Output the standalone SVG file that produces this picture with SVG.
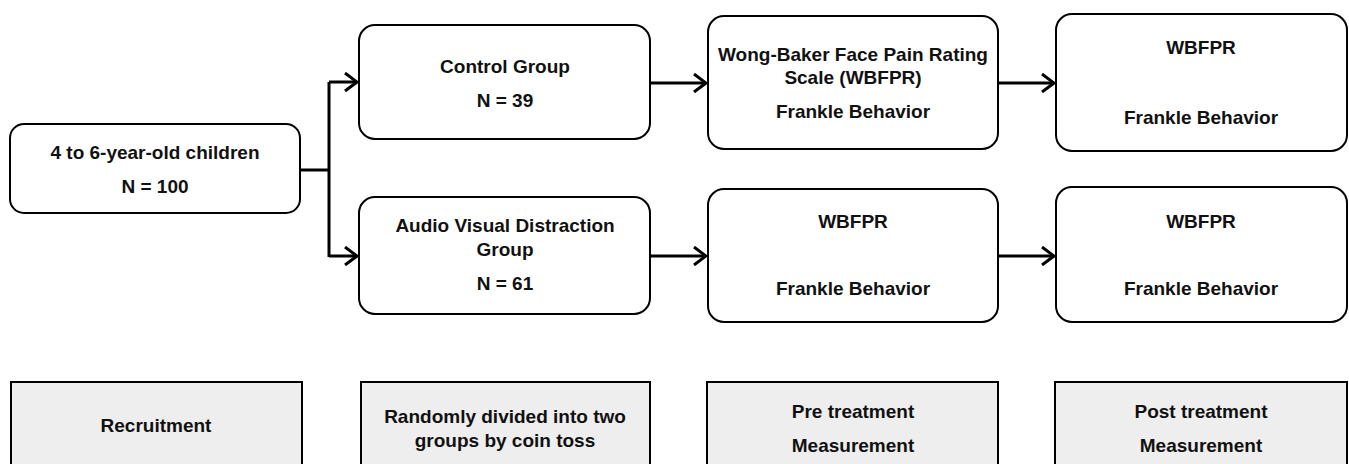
<svg xmlns="http://www.w3.org/2000/svg" width="1349" height="464" viewBox="0 0 1349 464">
<defs>
<marker id="chev" viewBox="0 0 14 20" refX="13" refY="10" markerWidth="14" markerHeight="20" markerUnits="userSpaceOnUse" orient="auto">
<path d="M1,1 L13,10 L1,19" fill="none" stroke="#000" stroke-width="3"/>
</marker>
</defs>
<style>
.box{fill:#fff;stroke:#000;stroke-width:2}
.step{fill:#eeeeee;stroke:#000;stroke-width:2}
.t{font-family:"Liberation Sans",Arial,sans-serif;font-weight:bold;font-size:19px;fill:#111;text-anchor:middle}
.c{fill:none;stroke:#000;stroke-width:3}
</style>
<rect width="1349" height="464" fill="#fff"/>
<g id="connectors">
<path class="c" d="M300,170 H329"/>
<path class="c" d="M329,82 V257"/>
<path class="c" d="M329,82 H357" marker-end="url(#chev)"/>
<path class="c" d="M329,256 H357" marker-end="url(#chev)"/>
<path class="c" d="M650,83 H706" marker-end="url(#chev)"/>
<path class="c" d="M650,256 H706" marker-end="url(#chev)"/>
<path class="c" d="M998,83 H1054" marker-end="url(#chev)"/>
<path class="c" d="M998,256 H1054" marker-end="url(#chev)"/>
</g>
<g id="children">
<rect class="box" x="10" y="124" width="290" height="89" rx="14"/>
<text class="t" x="155" y="159">4 to 6-year-old children</text>
<text class="t" x="155" y="193">N = 100</text>
</g>
<g id="control">
<rect class="box" x="359" y="25" width="291" height="114" rx="16"/>
<text class="t" x="505" y="73">Control Group</text>
<text class="t" x="505" y="107">N = 39</text>
</g>
<g id="avd">
<rect class="box" x="359" y="197" width="291" height="117" rx="16"/>
<text class="t" x="505" y="232">Audio Visual Distraction</text>
<text class="t" x="505" y="256">Group</text>
<text class="t" x="505" y="290">N = 61</text>
</g>
<g id="pre-control">
<rect class="box" x="708" y="16" width="290" height="133" rx="16"/>
<text class="t" x="853" y="61">Wong-Baker Face Pain Rating</text>
<text class="t" x="853" y="84">Scale (WBFPR)</text>
<text class="t" x="853" y="118">Frankle Behavior</text>
</g>
<g id="pre-avd">
<rect class="box" x="708" y="189" width="290" height="133" rx="16"/>
<text class="t" x="853" y="228">WBFPR</text>
<text class="t" x="853" y="295">Frankle Behavior</text>
</g>
<g id="post-control">
<rect class="box" x="1056" y="14" width="291" height="137" rx="16"/>
<text class="t" x="1201" y="54">WBFPR</text>
<text class="t" x="1201" y="124">Frankle Behavior</text>
</g>
<g id="post-avd">
<rect class="box" x="1056" y="187" width="291" height="135" rx="16"/>
<text class="t" x="1201" y="228">WBFPR</text>
<text class="t" x="1201" y="295">Frankle Behavior</text>
</g>
<g id="recruitment">
<rect class="step" x="11" y="382" width="291" height="100"/>
<text class="t" x="156" y="432">Recruitment</text>
</g>
<g id="randomly">
<rect class="step" x="361" y="382" width="289" height="100"/>
<text class="t" x="505" y="423">Randomly divided into two</text>
<text class="t" x="505" y="447">groups by coin toss</text>
</g>
<g id="pre">
<rect class="step" x="707" y="382" width="291" height="100"/>
<text class="t" x="853" y="418">Pre treatment</text>
<text class="t" x="853" y="452">Measurement</text>
</g>
<g id="post">
<rect class="step" x="1055" y="382" width="292" height="100"/>
<text class="t" x="1201" y="418">Post treatment</text>
<text class="t" x="1201" y="452">Measurement</text>
</g>
</svg>
